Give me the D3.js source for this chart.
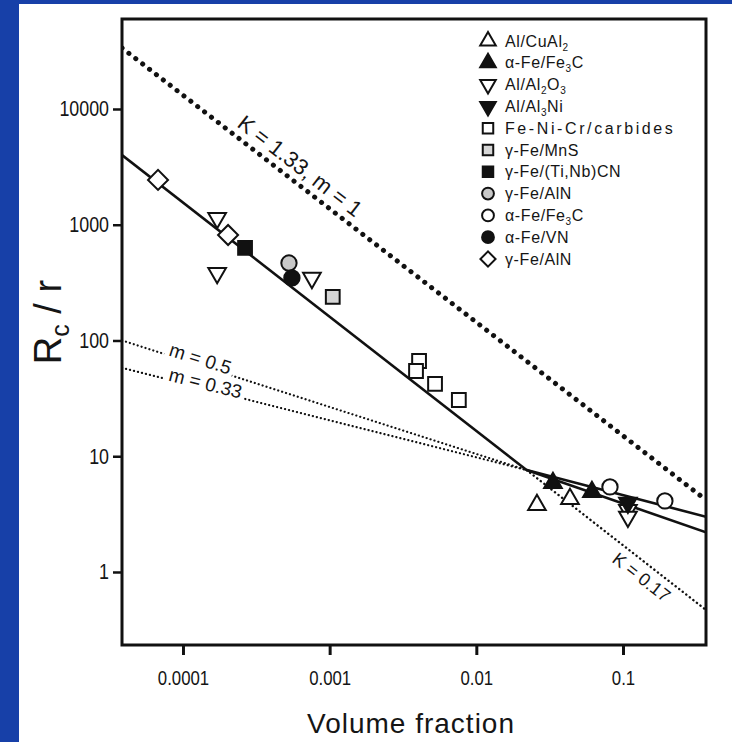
<!DOCTYPE html>
<html>
<head>
<meta charset="utf-8">
<script src="https://cdn.jsdelivr.net/npm/d3@7"></script>
<style>
body { margin: 0; background: #fff; }
svg text { font-family: "Liberation Sans", Arial, Helvetica, sans-serif; fill: #151515; }
</style>
</head>
<body>
<script>
// ---- data: [volume fraction, Rc/r] ----
var alCuAl2     = [[0.0259, 3.79], [0.0435, 4.27]];
var aFeFe3Ctri  = [[0.0333, 5.87], [0.0614, 4.91]];
var alAl2O3     = [[1.71e-4, 1143], [1.71e-4, 383], [7.57e-4, 347], [0.108, 3.43], [0.108, 2.99]];
var alAl3Ni     = [[0.108, 3.95]];
var feNiCr      = [[4.07e-3, 66.5], [3.88e-3, 54.5], [5.23e-3, 42.1], [7.6e-3, 30.6]];
var gFeMnS      = [[1.05e-3, 238]];
var gFeTiNbCN   = [[2.65e-4, 630]];
var gFeAlNcirc  = [[5.28e-4, 467]];
var aFeFe3Ccirc = [[0.0815, 5.43], [0.193, 4.11]];
var aFeVN       = [[5.53e-4, 347]];
var gFeAlNdia   = [[6.76e-5, 2440], [2.03e-4, 815]];

// reference lines (end points)
var zenerLine = [[3.84e-5, 33650], [0.368, 4.19]];   // K = 1.33, m = 1
var m05Line   = [[3.84e-5, 100], [0.022, 7.6]];
var m033Line  = [[3.84e-5, 58], [0.022, 7.6]];
var k017Line  = [[0.022, 7.6], [0.368, 0.47]];
var fitLine   = [[3.84e-5, 4000], [0.022, 7.6]];
var fitUpper  = [[0.022, 7.6], [0.368, 3.0]];
var fitLower  = [[0.022, 7.6], [0.368, 2.2]];

var xTicks = [0.0001, 0.001, 0.01, 0.1];
var xTickLabels = ["0.0001", "0.001", "0.01", "0.1"];
var yTicks = [1, 10, 100, 1000, 10000];
var yTickLabels = ["1", "10", "100", "1000", "10000"];
var xDomain = [3.84e-5, 0.368];
var yDomain = [0.234, 61100];

var series = [
  {label: "Al/CuAl_2",         shape: "triUp",   fill: "#fff", data: alCuAl2},
  {label: "α-Fe/Fe_3C",        shape: "triUp",   fill: "#111", data: aFeFe3Ctri},
  {label: "Al/Al_2O_3",        shape: "triDown", fill: "#fff", data: alAl2O3},
  {label: "Al/Al_3Ni",         shape: "triDown", fill: "#111", data: alAl3Ni},
  {label: "Fe-Ni-Cr/carbides", shape: "square",  fill: "#fff", data: feNiCr},
  {label: "γ-Fe/MnS",          shape: "square",  fill: "#d6d6d6", data: gFeMnS},
  {label: "γ-Fe/(Ti,Nb)CN",    shape: "square",  fill: "#111", data: gFeTiNbCN},
  {label: "γ-Fe/AlN",          shape: "circle",  fill: "#c8c8c8", data: gFeAlNcirc},
  {label: "α-Fe/Fe_3C",        shape: "circle",  fill: "#fff", data: aFeFe3Ccirc},
  {label: "α-Fe/VN",           shape: "circle",  fill: "#111", data: aFeVN},
  {label: "γ-Fe/AlN",          shape: "diamond", fill: "#fff", data: gFeAlNdia}
];

var W = 732, H = 742;
var plot = {left: 122, right: 706, top: 19, bottom: 645};

var svg = d3.select("body").append("svg")
  .attr("width", W)
  .attr("height", H);

svg.append("rect").attr("width", W).attr("height", H).attr("fill", "#fff");
// blue slide border
svg.append("rect").attr("x", 0).attr("y", 0).attr("width", 19).attr("height", H).attr("fill", "#1740a8");
svg.append("rect").attr("x", 0).attr("y", 0).attr("width", W).attr("height", 4).attr("fill", "#1740a8");

var x = d3.scaleLog().domain(xDomain).range([plot.left, plot.right]);
var y = d3.scaleLog().domain(yDomain).range([645, 18]);

var line = d3.line()
  .x(function(d) { return x(d[0]); })
  .y(function(d) { return y(d[1]); });

svg.append("clipPath").attr("id", "plotclip")
  .append("rect")
  .attr("x", plot.left).attr("y", plot.top)
  .attr("width", plot.right - plot.left).attr("height", plot.bottom - plot.top);

var lines = svg.append("g").attr("clip-path", "url(#plotclip)");

function drawLine(data, width, dash) {
  var p = lines.append("path")
    .attr("d", line(data))
    .attr("fill", "none")
    .attr("stroke", "#111")
    .attr("stroke-width", width);
  if (dash) p.attr("stroke-dasharray", dash).attr("stroke-linecap", "round");
  return p;
}

drawLine(zenerLine, 5, "0.1 8.6");
drawLine(m05Line, 2.2, "0.1 4");
drawLine(m033Line, 2.2, "0.1 4");
drawLine(k017Line, 2.4, "0.1 4.4");
drawLine(fitLine, 2.6);
drawLine(fitUpper, 2.6);
drawLine(fitLower, 2.6);

// point on a line (in pixels) at a given pixel x, plus the angle of that line
function along(data, px) {
  var x0 = x(data[0][0]), y0 = y(data[0][1]);
  var x1 = x(data[1][0]), y1 = y(data[1][1]);
  var t = (px - x0) / (x1 - x0);
  return {x: px, y: y0 + t * (y1 - y0), a: Math.atan2(y1 - y0, x1 - x0) * 180 / Math.PI};
}

function lineLabel(data, px, text, size, anchor, off, box) {
  var p = along(data, px);
  var g = svg.append("g")
    .attr("transform", "translate(" + p.x + "," + p.y + ") rotate(" + p.a + ")");
  var t = g.append("text")
    .attr("y", off)
    .attr("text-anchor", anchor)
    .attr("font-size", size)
    .text(text);
  if (box) {
    // white box breaks the dotted line under the label
    var b = t.node().getBBox();
    g.insert("rect", "text")
      .attr("x", b.x - 4).attr("y", b.y + 3)
      .attr("width", b.width + 7).attr("height", b.height - 5)
      .attr("fill", "#fff");
  }
}

lineLabel(zenerLine, 231, "K = 1.33, m = 1", 22, "start", -8, false);
lineLabel(m05Line, 168, "m = 0.5", 19, "start", 0, true);
lineLabel(m033Line, 168, "m = 0.33", 19, "start", 1, true);
lineLabel(k017Line, 650, "K = 0.17", 18, "middle", 20, false);

// ---- markers ----
function symbolPath(shape, s) {
  if (shape === "triUp" || shape === "triDown") {
    return d3.symbol().type(d3.symbolTriangle).size(s.tri)();
  }
  if (shape === "square") return d3.symbol().type(d3.symbolSquare).size(s.sq)();
  if (shape === "diamond") return d3.symbol().type(d3.symbolSquare).size(s.dia)();
  return d3.symbol().type(d3.symbolCircle).size(s.circ)();
}
function symbolRot(shape) {
  if (shape === "triDown") return 180;
  if (shape === "diamond") return 45;
  return 0;
}

var dataSize = {tri: 135, sq: 190, dia: 200, circ: 185};
var legendSize = {tri: 105, sq: 110, dia: 115, circ: 110};

var marks = svg.append("g");
series.forEach(function(s) {
  marks.selectAll(null)
    .data(s.data)
    .enter()
    .append("path")
    .attr("d", symbolPath(s.shape, dataSize))
    .attr("transform", function(d) {
      return "translate(" + x(d[0]) + "," + y(d[1]) + ") rotate(" + symbolRot(s.shape) + ")";
    })
    .attr("fill", s.fill)
    .attr("stroke", "#111")
    .attr("stroke-width", 2);
});

// ---- frame and axes ----
svg.append("rect")
  .attr("x", plot.left).attr("y", plot.top)
  .attr("width", plot.right - plot.left).attr("height", plot.bottom - plot.top)
  .attr("fill", "none")
  .attr("stroke", "#111")
  .attr("stroke-width", 3);

var narrow = 0.8;

var gx = svg.append("g")
  .attr("transform", "translate(0," + plot.bottom + ")")
  .call(d3.axisBottom(x).tickValues(xTicks)
    .tickFormat(function(d, i) { return xTickLabels[i]; })
    .tickSize(10).tickPadding(15));
gx.select(".domain").remove();
gx.selectAll(".tick line").attr("stroke", "#111").attr("stroke-width", 3);
gx.selectAll(".tick text")
  .attr("font-size", 21)
  .attr("font-family", null)
  .attr("fill", "#151515")
  .attr("transform", "scale(" + narrow + ",1)");

var gy = svg.append("g")
  .attr("transform", "translate(" + plot.left + ",0)")
  .call(d3.axisLeft(y).tickValues(yTicks)
    .tickFormat(function(d, i) { return yTickLabels[i]; })
    .tickSize(9).tickPadding(4));
gy.select(".domain").remove();
gy.selectAll(".tick line").attr("stroke", "#111").attr("stroke-width", 2.5);
gy.selectAll(".tick text")
  .attr("font-size", 21.5)
  .attr("font-family", null)
  .attr("fill", "#151515")
  .attr("x", -13 / 0.83)
  .attr("transform", "scale(0.83,1)");

// axis titles
svg.append("text")
  .attr("x", (plot.left + plot.right) / 2 - 3)
  .attr("y", 733)
  .attr("text-anchor", "middle")
  .attr("font-size", 28)
  .attr("letter-spacing", 1)
  .text("Volume fraction");

var yt = svg.append("text")
  .attr("transform", "translate(61,322) rotate(-90)")
  .attr("text-anchor", "middle")
  .attr("font-size", 38);
yt.append("tspan").text("R");
yt.append("tspan").attr("font-size", 25).attr("dy", 8).text("c");
yt.append("tspan").attr("dy", -8).text(" / r");

// ---- legend ----
function addRich(textSel, label) {
  var parts = label.split(/_(\w)/);
  parts.forEach(function(p, i) {
    if (!p) return;
    if (i % 2 === 1) {
      textSel.append("tspan").attr("font-size", 10).attr("baseline-shift", "-4").text(p);
    } else {
      textSel.append("tspan").text(p);
    }
  });
}

// the long label is set much wider in the original
var wideLabels = {"Fe-Ni-Cr/carbides": 2.6};

var legend = svg.append("g");
series.forEach(function(s, i) {
  var ly = 41 + i * 21.8;
  legend.append("path")
    .attr("d", symbolPath(s.shape, legendSize))
    .attr("transform", "translate(488," + ly + ") rotate(" + symbolRot(s.shape) + ")")
    .attr("fill", s.fill)
    .attr("stroke", "#111")
    .attr("stroke-width", 2);
  var t = legend.append("text")
    .attr("x", 505)
    .attr("y", ly + 5.5)
    .attr("font-size", 16)
    .attr("letter-spacing", wideLabels[s.label] || 0.6);
  addRich(t, s.label);
});
</script>
</body>
</html>
